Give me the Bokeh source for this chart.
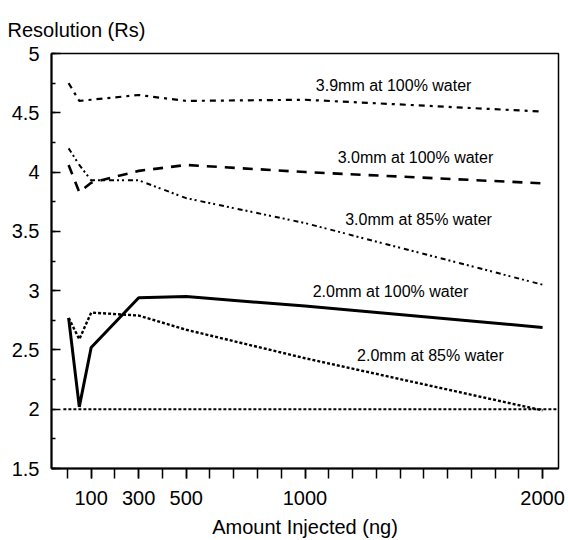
from bokeh.plotting import figure
from bokeh.models import FixedTicker, SingleIntervalTicker, Range1d, ColumnDataSource
from bokeh.embed import file_html
from bokeh.resources import INLINE
from bokeh.core.properties import value

# ---- data ----
amount = [5, 50, 100, 300, 500, 1000, 2000]
rs_39mm_100 = [4.75, 4.60, 4.61, 4.65, 4.60, 4.61, 4.51]
rs_30mm_100 = [4.06, 3.83, 3.91, 4.01, 4.06, 4.00, 3.905]
rs_30mm_85 = [4.20, 4.06, 3.93, 3.93, 3.78, 3.57, 3.05]
rs_20mm_100 = [2.77, 2.02, 2.52, 2.94, 2.95, 2.87, 2.69]
rs_20mm_85 = [2.77, 2.59, 2.815, 2.79, 2.67, 2.43, 1.99]
baseline_x = [-17, 2067]
baseline_rs = [2.0, 2.0]

x_major_ticks = [100, 300, 500, 1000, 2000]
x_minor_ticks = list(range(0, 2001, 100))

series_names = ["3.9mm at 100% water", "3.0mm at 100% water", "3.0mm at 85% water",
                "2.0mm at 100% water", "2.0mm at 85% water"]
name_x = [1373, 1465, 1478, 1360, 1528]
name_y = [4.73, 4.12, 3.60, 2.99, 2.45]

FONT = "Liberation Sans"

p = figure(width=568, height=540, output_backend="svg", toolbar_location=None,
           x_range=Range1d(-67, 2067), y_range=Range1d(1.5, 5.0),
           min_border_left=51, min_border_right=10, min_border_top=53,
           min_border_bottom=70)

p.background_fill_color = "white"
p.border_fill_color = "white"
p.outline_line_color = "black"
p.outline_line_width = 1.5
p.xgrid.grid_line_color = None
p.ygrid.grid_line_color = None

# title used as the horizontal y-axis caption
p.title.text = "Resolution (Rs)"
p.title.align = "left"
p.title.offset = -44
p.title.text_font = FONT
p.title.text_font_size = "20px"
p.title.text_font_style = "normal"
p.title.text_color = "black"
p.title.standoff = 26

# x axis
p.xaxis.ticker = FixedTicker(ticks=x_major_ticks, minor_ticks=x_minor_ticks)
p.xaxis.axis_label = "Amount Injected (ng)"
p.xaxis.axis_label_text_font = FONT
p.xaxis.axis_label_text_font_size = "20px"
p.xaxis.axis_label_text_font_style = "normal"
p.xaxis.axis_label_standoff = 8
p.xaxis.major_label_text_font = FONT
p.xaxis.major_label_text_font_size = "20px"
p.xaxis.major_label_standoff = 12
p.xaxis.major_tick_in = 0
p.xaxis.major_tick_out = 10
p.xaxis.minor_tick_in = 0
p.xaxis.minor_tick_out = 10
p.xaxis.axis_line_width = 2
p.xaxis.major_tick_line_width = 1.5
p.xaxis.minor_tick_line_width = 1.5

# y axis
p.yaxis.ticker = SingleIntervalTicker(interval=0.5, num_minor_ticks=2)
p.yaxis.major_label_text_font = FONT
p.yaxis.major_label_text_font_size = "20px"
p.yaxis.major_label_standoff = 12
p.yaxis.major_tick_in = 9
p.yaxis.major_tick_out = 0
p.yaxis.minor_tick_in = 4
p.yaxis.minor_tick_out = 0
p.yaxis.axis_line_width = 2
p.yaxis.major_tick_line_width = 1.5
p.yaxis.minor_tick_line_width = 1.5

for ax in (p.xaxis, p.yaxis):
    ax.axis_line_color = "black"
    ax.major_tick_line_color = "black"
    ax.minor_tick_line_color = "black"
    ax.major_label_text_color = "black"
    ax.axis_label_text_color = "black"

# series
p.line(baseline_x, baseline_rs, line_color="black", line_width=2, line_dash="3 2")
p.line(amount, rs_39mm_100, line_color="black", line_width=2.2, line_dash="6 5 3 5")
p.line(amount, rs_30mm_100, line_color="black", line_width=2.6, line_dash="10 8")
p.line(amount, rs_30mm_85, line_color="black", line_width=2, line_dash="5 3 2 3 2 4")
p.line(amount, rs_20mm_100, line_color="black", line_width=3)
p.line(amount, rs_20mm_85, line_color="black", line_width=2.4, line_dash="3 2")

src = ColumnDataSource(dict(x=name_x, y=name_y, t=series_names))
p.text(x="x", y="y", text="t", source=src, text_font=value(FONT),
       text_font_size="16px", text_align="center", text_baseline="middle",
       text_color="black")

open("out.html", "w").write(file_html(p, INLINE))
